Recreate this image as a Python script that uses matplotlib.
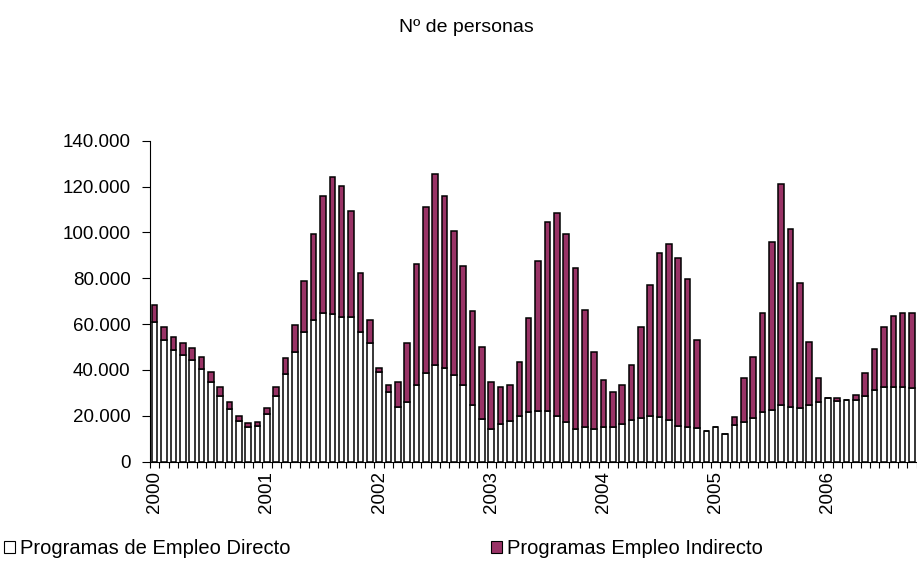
import matplotlib
matplotlib.use("Agg")
import matplotlib.pyplot as plt
from matplotlib.patches import Patch
from matplotlib.ticker import FuncFormatter
import numpy as np

plt.rcParams['font.family'] = ['Liberation Sans', 'DejaVu Sans']

# monthly series, Jan 2000 - Oct 2006
years = ['2000', '2001', '2002', '2003', '2004', '2005', '2006']

directo = [60800, 53100, 48700, 46500, 44400, 40400, 34600, 28700, 23000, 17900, 15000, 15700,
           20700, 28800, 38300, 48000, 56700, 61800, 64700, 64300, 63200, 63200, 56700, 51600,
           39300, 30500, 24000, 26200, 33500, 38600, 42200, 40700, 37800, 33500, 24700, 18700,
           14300, 16400, 17900, 19900, 21700, 22200, 22200, 19900, 17200, 14300, 15000, 14300,
           15000, 15000, 16400, 18200, 19200, 19900, 19400, 18200, 15700, 15000, 14600, 13500,
           15300, 12100, 16000, 17400, 18900, 21800, 22600, 24600, 24000, 23300, 24700, 26200,
           27700, 26600, 26900, 26900, 28700, 31300, 32700, 32700, 32700, 32000]

indirecto = [7700, 5800, 5800, 5400, 5100, 5400, 4700, 4000, 3200, 2200, 1700, 1700,
             2600, 3900, 6800, 11800, 22100, 37500, 51300, 59700, 57200, 46300, 25700, 10300,
             1400, 3000, 10900, 25700, 52600, 72300, 83300, 75300, 62900, 51800, 41000, 31500,
             20600, 16300, 15600, 23700, 41000, 65300, 82200, 88700, 82000, 70200, 51300, 33700,
             20600, 15500, 17100, 24000, 39700, 57300, 71700, 76600, 73300, 64600, 38500, 0,
             0, 0, 3600, 19000, 26900, 43200, 73100, 96500, 77500, 54800, 27600, 10200,
             0, 1100, 0, 2200, 9900, 17700, 26200, 30800, 32300, 33000]

purple = '#993366'

fig = plt.figure(figsize=(9.17, 5.65), dpi=100)
ax = fig.add_axes([150 / 917, 1 - 461.7 / 565, 766.7 / 917, 321 / 565])

x = np.arange(len(directo))
ax.bar(x, directo, width=0.6, color='white', edgecolor='black', linewidth=1.1)
ax.bar(x, indirecto, bottom=directo, width=0.6, color=purple, edgecolor='black', linewidth=1.1)

ax.set_xlim(-0.5, len(directo) - 0.5)
ax.set_ylim(0, 140000)
ax.set_yticks(np.arange(0, 140001, 20000))
ax.yaxis.set_major_formatter(FuncFormatter(lambda v, p: f"{int(v):,}".replace(',', '.')))

# category boundaries as ticks, year names under January
ax.set_xticks(np.arange(-0.5, len(directo), 1))
ax.set_xticklabels([])
ax.set_xticks(np.arange(0, len(directo), 12), labels=years, minor=True)
ax.tick_params(axis='x', which='major', direction='out', length=4.5, width=0.8)
ax.tick_params(axis='x', which='minor', length=0, pad=7, labelsize=13.5, labelrotation=90)
ax.tick_params(axis='y', direction='out', length=6, width=0.8, pad=8, labelsize=13.5)

for s in ['top', 'right']:
    ax.spines[s].set_visible(False)
for s in ['left', 'bottom']:
    ax.spines[s].set_linewidth(0.8)

fig.text(466 / 917, 1 - 27 / 565, 'Nº de personas', ha='center', va='center', fontsize=14)

h1 = Patch(facecolor='white', edgecolor='black', linewidth=0.8, label='Programas de Empleo Directo')
h2 = Patch(facecolor=purple, edgecolor='black', linewidth=0.8, label='Programas Empleo Indirecto')
for h, xl in [(h1, 4 / 917), (h2, 491 / 917)]:
    fig.legend(handles=[h], loc='center left', bbox_to_anchor=(xl, 1 - 549 / 565),
               frameon=False, fontsize=14.5, handlelength=0.55, handleheight=0.55,
               handletextpad=0.25, borderaxespad=0, borderpad=0)

fig.savefig('out.png', dpi=100)
